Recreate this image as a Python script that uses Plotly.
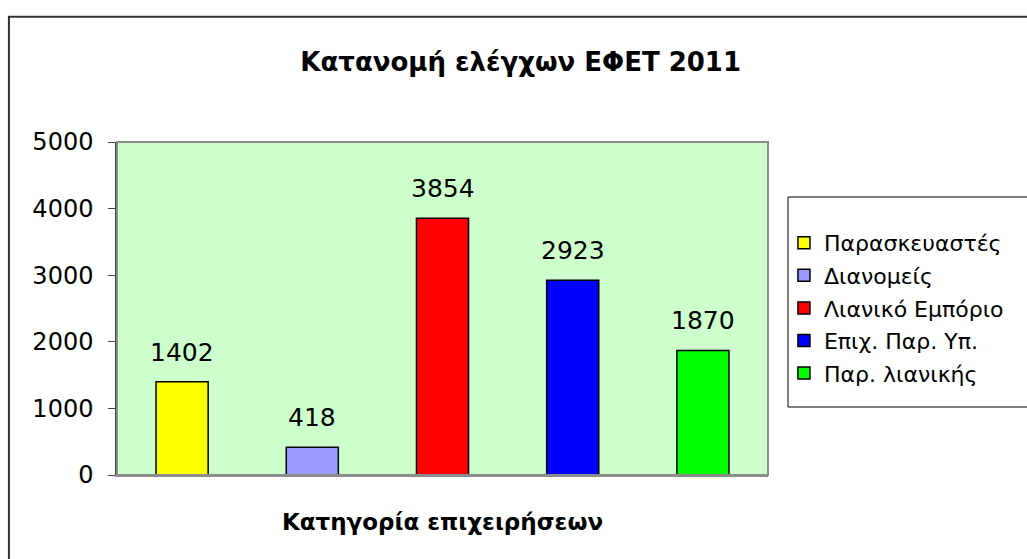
"""
Κατανομή ελέγχων ΕΦΕΤ 2011 - bar chart with Plotly
"""

import plotly.graph_objects as go

# data
categories = ['Παρασκευαστές', 'Διανομείς', 'Λιανικό Εμπόριο', 'Επιχ. Παρ. Υπ.', 'Παρ. λιανικής']
checks = [1402, 418, 3854, 2923, 1870]
bar_colors = ['#FFFF00', '#9999FF', '#FF0000', '#0000FF', '#00FF00']
y_ticks = [0, 1000, 2000, 3000, 4000, 5000]

FONT = 'DejaVu Sans, Liberation Sans, sans-serif'


def build_figure():
    fig = go.Figure()

    for name, val, col in zip(categories, checks, bar_colors):
        fig.add_trace(go.Bar(
            x=[name], y=[val], name=name, legendgroup=name,
            marker=dict(color=col, line=dict(color='black', width=1.5)),
            hoverinfo='x+y',
        ))
        # value label above each bar
        fig.add_annotation(
            x=name, y=val, text=str(val), showarrow=False,
            yanchor='bottom', yshift=13,
            font=dict(family=FONT, size=25, color='black'),
        )

    # plot area border (grey), legend box and outer chart frame
    fig.add_shape(type='rect', xref='paper', yref='paper', x0=0, x1=1, y0=0, y1=1,
                  line=dict(color='#8c8c8c', width=2), layer='above')
    fig.add_shape(type='rect', xref='paper', yref='paper', x0=1.0307, x1=1.6, y0=0.2042, y1=0.8348,
                  line=dict(color='black', width=1), fillcolor='white', layer='below')
    fig.add_shape(type='rect', xref='paper', yref='paper', x0=-0.166, x1=1.6, y0=-0.5, y1=1.376,
                  line=dict(color='#333333', width=2), layer='below')

    fig.update_layout(
        width=1027, height=559,
        margin=dict(l=117, r=259, t=142, b=84, autoexpand=False),
        paper_bgcolor='white',
        plot_bgcolor='#CCFFCC',
        barmode='overlay',
        bargap=0.6,
        font=dict(family=FONT, color='black'),
        title=dict(text='Κατανομή ελέγχων ΕΦΕΤ 2011', x=0.507, xanchor='center',
                   y=1 - 62 / 559, yanchor='middle',
                   font=dict(family=FONT, size=26, weight='bold', color='black')),
        showlegend=True,
        legend=dict(x=1.0245, xanchor='left', y=0.76, yanchor='top',
                    bgcolor='rgba(0,0,0,0)', borderwidth=0,
                    font=dict(family=FONT, size=22, color='black'),
                    tracegroupgap=1),
    )

    fig.update_xaxes(
        showticklabels=False, showline=True, linecolor='#8c8c8c', linewidth=2,
        ticks='', showgrid=False, zeroline=False,
        title=dict(text='Κατηγορία επιχειρήσεων', standoff=38,
                   font=dict(family=FONT, size=23, weight='bold', color='black')),
    )
    fig.update_yaxes(
        range=[0, 5000], tickvals=y_ticks, showgrid=False, zeroline=False,
        showline=True, linecolor='#444444', linewidth=1.5,
        ticks='outside', ticklen=7, tickcolor='#444444',
        ticklabelstandoff=10,
        tickfont=dict(family=FONT, size=24, color='black'),
    )
    return fig


def main():
    fig = build_figure()
    fig.write_html('out.html', config={'displayModeBar': False},
                   post_script="document.body.style.margin='0';")


if __name__ == '__main__':
    main()
